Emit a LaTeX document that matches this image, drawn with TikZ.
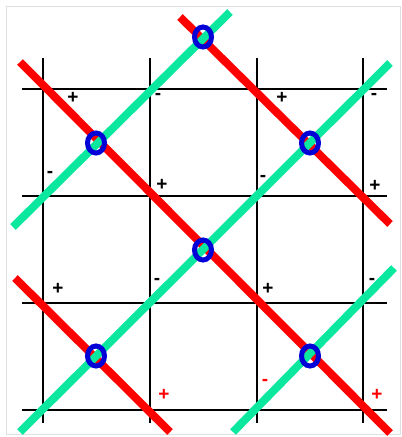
\documentclass[tikz,border=0pt]{standalone}
\usepackage{fontspec}
\setmainfont{Liberation Sans}
\usetikzlibrary{shapes.geometric}
\begin{document}
\begin{tikzpicture}[x=1pt,y=-1pt,
  gridline/.style={line width=2pt,black},
  redline/.style={line width=8pt,draw={rgb,255:red,255;green,0;blue,0}},
  cyanline/.style={line width=8pt,draw={rgb,255:red,10;green,232;blue,160}},
  ring/.style={draw={rgb,255:red,0;green,0;blue,215},line width=5pt,ellipse,minimum width=17pt,minimum height=20pt,inner sep=0pt},
  sign/.style={font=\bfseries\fontsize{19}{19}\selectfont,inner sep=0pt},
  redsign/.style={sign,text={rgb,255:red,255;green,0;blue,0}}]
\useasboundingbox (0,0) rectangle (402,437);
\fill[white] (0,0) rectangle (402,437);
\draw[line width=1pt,gray!25] (6,6) rectangle (400,434);
% grid
\foreach \x in {43,150,257,363} \draw[gridline] (\x,58) -- (\x,423);
\foreach \y in {89,196,303,410} \draw[gridline] (22,\y) -- (387,\y);
% red lines
\draw[redline] (20,62) -- (390,433);
\draw[redline] (180,17) -- (390,224);
\draw[redline] (15,278) -- (170,432);
% cyan lines
\draw[cyanline] (230,12) -- (13,227);
\draw[cyanline] (390,63) -- (20,432);
\draw[cyanline] (394,268) -- (233,432);
% rings
\node[ring] (c1) at (96,143) {};
\node[ring] (c2) at (203,37) {};
\node[ring] (c3) at (310,143) {};
\node[ring] (c4) at (203,250) {};
\node[ring] (c5) at (96,356) {};
\node[ring] (c6) at (310,356) {};
% signs
\node[sign] (s1) at (73,98) {+};
\node[sign] (s2) at (158,96) {-};
\node[sign] (s3) at (282,98) {+};
\node[sign] (s4) at (374,96) {-};
\node[sign] (s5) at (50,174) {-};
\node[sign] (s6) at (162,185) {+};
\node[sign] (s7) at (263,178) {-};
\node[sign] (s8) at (375,186) {+};
\node[sign] (s9) at (58,289) {+};
\node[sign] (s10) at (157,281) {-};
\node[sign] (s11) at (268,289) {+};
\node[sign] (s12) at (372,281) {-};
\node[redsign] (s13) at (164,395) {+};
\node[redsign] (s14) at (265,382) {-};
\node[redsign] (s15) at (377,395) {+};
\end{tikzpicture}
\end{document}
